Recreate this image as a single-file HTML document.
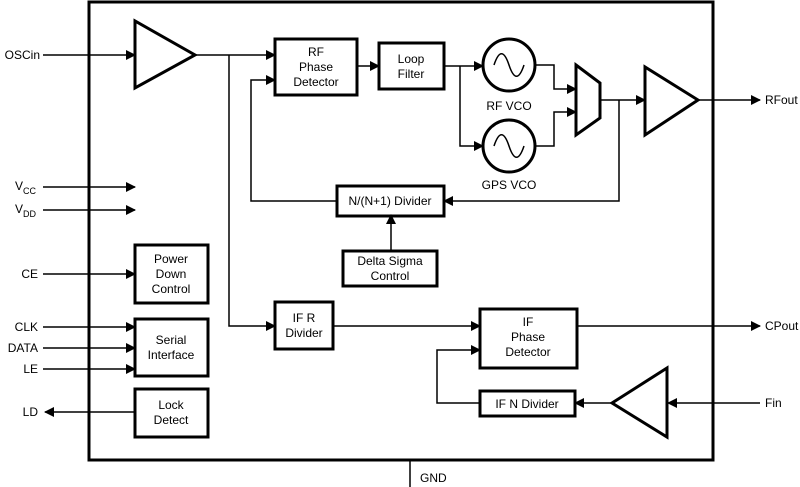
<!DOCTYPE html>
<html><head><style>
html,body{margin:0;padding:0;background:#fff;}
svg{display:block;}
text{font-family:"Liberation Sans",Arial,sans-serif;font-size:12px;fill:#000;}
</style></head><body>
<svg width="800" height="487" viewBox="0 0 800 487" xmlns="http://www.w3.org/2000/svg">
<defs>
<marker id="a" markerWidth="10" markerHeight="10" refX="9" refY="5" orient="auto" markerUnits="userSpaceOnUse">
<path d="M0,0 L10,5 L0,10 z" fill="#000"/></marker>
</defs>
<g fill="none" stroke="#000">
<!-- main box -->
<rect x="89" y="2" width="624" height="458" stroke-width="3"/>
<line x1="410" y1="460" x2="410" y2="487" stroke-width="1.5"/>
<g stroke-width="1.5">
<!-- OSCin -->
<line x1="43" y1="55" x2="135" y2="55" marker-end="url(#a)"/>
<line x1="195" y1="55" x2="275" y2="55" marker-end="url(#a)"/>
<polyline points="229,55 229,326 275,326" marker-end="url(#a)"/>
<!-- feedback to RF PD -->
<polyline points="337,201 251,201 251,80 275,80" marker-end="url(#a)"/>
<line x1="357" y1="66" x2="379" y2="66" marker-end="url(#a)"/>
<line x1="444" y1="66" x2="460" y2="66"/>
<polyline points="460,66 460,66 483,66" marker-end="url(#a)"/>
<polyline points="460,66 460,146 483,146" marker-end="url(#a)"/>
<polyline points="535,65 554,65 554,89 576,89" marker-end="url(#a)"/>
<polyline points="535,146 554,146 554,112 576,112" marker-end="url(#a)"/>
<line x1="600" y1="100" x2="645" y2="100" marker-end="url(#a)"/>
<polyline points="619,100 619,201 444,201" marker-end="url(#a)"/>
<line x1="698" y1="100" x2="760" y2="100" marker-end="url(#a)"/>
<line x1="391" y1="251" x2="391" y2="215" marker-end="url(#a)"/>
<!-- VCC VDD -->
<line x1="43" y1="187" x2="135" y2="187" marker-end="url(#a)"/>
<line x1="43" y1="210" x2="135" y2="210" marker-end="url(#a)"/>
<line x1="43" y1="274" x2="135" y2="274" marker-end="url(#a)"/>
<line x1="43" y1="327" x2="135" y2="327" marker-end="url(#a)"/>
<line x1="43" y1="348" x2="135" y2="348" marker-end="url(#a)"/>
<line x1="43" y1="369" x2="135" y2="369" marker-end="url(#a)"/>
<line x1="135" y1="412" x2="45" y2="412" marker-end="url(#a)"/>
<!-- IF -->
<line x1="333" y1="326" x2="480" y2="326" marker-end="url(#a)"/>
<line x1="577" y1="326" x2="760" y2="326" marker-end="url(#a)"/>
<polyline points="480,403 437,403 437,350 480,350" marker-end="url(#a)"/>
<line x1="612" y1="403" x2="575" y2="403" marker-end="url(#a)"/>
<line x1="760" y1="403" x2="668" y2="403" marker-end="url(#a)"/>
</g>
<g stroke-width="3">
<polygon points="135,21 135,88 195,55"/>
<rect x="275" y="39" width="82" height="56"/>
<rect x="379" y="43" width="65" height="46"/>
<circle cx="509" cy="65" r="26"/>
<circle cx="509" cy="146" r="26"/>
<polygon points="576,65 600,83 600,118 576,135"/>
<polygon points="645,67 645,135 698,100"/>
<rect x="337" y="186" width="107" height="30"/>
<rect x="343" y="251" width="94" height="35"/>
<rect x="135" y="245" width="73" height="58"/>
<rect x="135" y="319" width="73" height="57"/>
<rect x="135" y="389" width="73" height="48"/>
<rect x="275" y="302" width="58" height="47"/>
<rect x="480" y="309" width="97" height="59"/>
<rect x="480" y="391" width="95" height="25"/>
<polygon points="612,403 667,368 667,437"/>
</g>
<g stroke-width="1.5">
<path d="M494,65 C499,50 504,50 509,65 C514,80 519,80 524,65"/>
<path d="M494,146 C499,131 504,131 509,146 C514,161 519,161 524,146"/>
</g>
</g>
<g text-anchor="middle">
<text x="316" y="56">RF</text>
<text x="316" y="71">Phase</text>
<text x="316" y="86">Detector</text>
<text x="411" y="63">Loop</text>
<text x="411" y="78">Filter</text>
<text x="509" y="110">RF VCO</text>
<text x="509" y="189">GPS VCO</text>
<text x="390" y="205">N/(N+1) Divider</text>
<text x="390" y="265">Delta Sigma</text>
<text x="390" y="280">Control</text>
<text x="171" y="263">Power</text>
<text x="171" y="278">Down</text>
<text x="171" y="293">Control</text>
<text x="171" y="344">Serial</text>
<text x="171" y="359">Interface</text>
<text x="171" y="409">Lock</text>
<text x="171" y="424">Detect</text>
<text x="304" y="322">IF R</text>
<text x="304" y="337">Divider</text>
<text x="528" y="326">IF</text>
<text x="528" y="341">Phase</text>
<text x="528" y="356">Detector</text>
<text x="527" y="408">IF N Divider</text>
</g>
<g text-anchor="end">
<text x="40" y="59">OSCin</text>
<text x="38" y="278">CE</text>
<text x="38" y="331">CLK</text>
<text x="38" y="352">DATA</text>
<text x="38" y="373">LE</text>
<text x="38" y="416">LD</text>
</g>
<text x="15" y="190">V<tspan font-size="9" dy="4">CC</tspan></text>
<text x="15" y="213">V<tspan font-size="9" dy="4">DD</tspan></text>
<text x="765" y="104">RFout</text>
<text x="765" y="330">CPout</text>
<text x="765" y="407">Fin</text>
<text x="420" y="482">GND</text>
</svg>
</body></html>
